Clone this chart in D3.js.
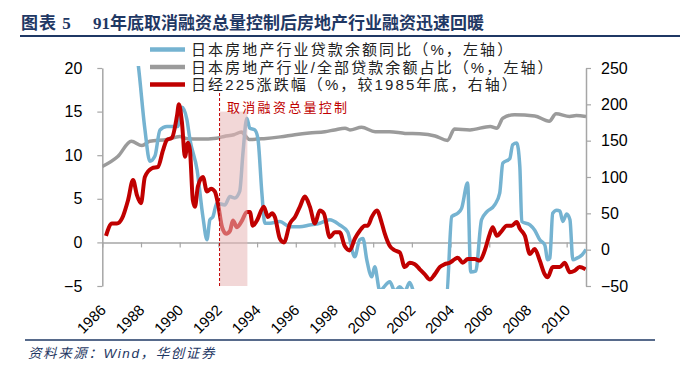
<!DOCTYPE html>
<html>
<head>
<meta charset="utf-8">
<script src="https://cdn.jsdelivr.net/npm/d3@7"></script>
<style>
body { margin: 0; background: #fff; }
svg { display: block; }
</style>
</head>
<body>
<svg id="chart" width="680" height="365"></svg>
<script>
// Japan real-estate lending vs Nikkei 225, 1986-2011
var loanYoY = [
    [1987.5, 25], [1987.85, 20.5], [1988.2, 13], [1988.46, 9.3], [1988.72, 9.9], [1988.98, 12.9],
    [1989.34, 13.3], [1989.9, 13.3], [1990.12, 15.5], [1990.37, 14.1], [1990.53, 11.8], [1990.9, 8.3],
    [1991.2, 2.95], [1991.41, 0.3], [1991.56, 2.6], [1991.72, 2.95], [1991.92, 4.5], [1992.33, 4.3],
    [1992.6, 5.25], [1992.85, 5.1], [1993.1, 5.85], [1993.27, 10.25], [1993.47, 14.25], [1993.62, 13.1],
    [1993.88, 12.9], [1994.04, 11.95], [1994.25, 5.6], [1994.4, 2.2], [1994.66, 2.2], [1995.17, 2.4],
    [1995.7, 1.8], [1996.2, 1.8], [1996.72, 2.0], [1997.24, 2.2], [1997.75, 2.6], [1998.27, 2.0],
    [1998.68, 1.2], [1999.05, -1.65], [1999.3, 0.3], [1999.47, 0.45], [1999.67, -2.0], [1999.93, -3.95],
    [2000.08, -2.8], [2000.34, -5.5], [2000.86, -4.5], [2001.12, -5.6], [2001.37, -5.1], [2001.63, -5.6],
    [2001.89, -4.6], [2002.15, -6], [2002.9, -7], [2003.8, -6], [2004.06, 2.95], [2004.37, 3.35],
    [2004.57, 3.9], [2004.88, 6.8], [2005.04, -3.4], [2005.3, -3.3], [2005.6, 2.6], [2005.87, 3.5],
    [2006.28, 4.3], [2006.54, 5.65], [2006.7, 9.1], [2007.06, 9.6], [2007.21, 11.2], [2007.42, 11.4],
    [2007.58, 8.7], [2007.68, 2.4], [2008.1, 2.0], [2008.35, 1.4], [2008.61, 0.3], [2008.87, -0.3],
    [2009.02, -2.0], [2009.13, -1.8], [2009.28, 3.35], [2009.49, 3.7], [2009.65, 3.6], [2009.8, 2.4],
    [2010.0, 3.25], [2010.17, 2.6], [2010.32, -2.0], [2010.53, -1.8], [2010.79, -1.45], [2011.0, -0.8]
];
var loanShare = [
    [1986.0, 8.7], [1986.8, 9.85], [1987.5, 11.6], [1988.05, 11.1], [1988.45, 11.6], [1989.35, 11.8],
    [1990.0, 12.15], [1990.4, 11.9], [1991.05, 11.85], [1991.9, 11.95], [1992.3, 12.15], [1992.8, 12.35],
    [1993.2, 12.65], [1993.35, 12.35], [1993.6, 11.8], [1994.35, 11.9], [1995.2, 12.1], [1995.95, 12.35],
    [1996.7, 12.55], [1997.5, 12.7], [1998.0, 12.9], [1998.55, 13.1], [1998.8, 12.9], [1999.4, 13.2],
    [2000.1, 12.7], [2000.85, 12.7], [2001.65, 12.5], [2002.4, 12.45], [2003.2, 12.2], [2003.85, 11.7],
    [2004.2, 13.0], [2005.0, 12.9], [2006.05, 13.3], [2006.4, 13.1], [2006.7, 14.25], [2007.3, 14.65],
    [2008.35, 14.5], [2009.1, 13.9], [2009.45, 14.75], [2010.15, 14.45], [2010.5, 14.55], [2011.0, 14.45]
];
var nikkeiChg = [
    [1986.19, 19], [1986.5, 36], [1986.76, 36], [1987.02, 43], [1987.33, 68], [1987.59, 96],
    [1987.79, 75], [1988.0, 64], [1988.2, 100], [1988.57, 112], [1988.88, 114], [1989.14, 137],
    [1989.34, 151], [1989.6, 154], [1989.86, 184], [1989.96, 200], [1990.12, 174], [1990.27, 128],
    [1990.43, 147], [1990.53, 137], [1990.68, 68], [1990.79, 59], [1990.94, 87], [1991.2, 100],
    [1991.41, 80], [1991.62, 84], [1991.82, 80], [1991.98, 63], [1992.19, 31], [1992.4, 22],
    [1992.6, 26], [1992.75, 40], [1992.96, 31], [1993.22, 40], [1993.47, 52], [1993.63, 52],
    [1993.78, 33], [1993.99, 40], [1994.35, 59], [1994.56, 45], [1994.77, 50], [1994.92, 45],
    [1995.18, 15], [1995.39, 10], [1995.7, 36], [1995.96, 45], [1996.21, 59], [1996.47, 73],
    [1996.73, 59], [1996.99, 36], [1997.24, 54], [1997.45, 50], [1997.76, 17], [1998.02, 24],
    [1998.27, 24], [1998.53, 5], [1998.79, -1], [1999.05, 15], [1999.31, 26], [1999.57, 33],
    [1999.72, 33], [1999.93, 45], [2000.19, 54], [2000.45, 36], [2000.6, 22], [2000.86, 5],
    [2001.12, -1], [2001.38, -4], [2001.63, -24], [2001.89, -18], [2002.15, -20], [2002.41, -27],
    [2002.67, -34], [2002.93, -41], [2003.18, -34], [2003.44, -24], [2003.7, -20], [2003.96, -18],
    [2004.22, -13], [2004.37, -11], [2004.63, -18], [2004.89, -13], [2005.25, -13], [2005.51, -15],
    [2005.77, -1], [2006.03, 22], [2006.18, 31], [2006.39, 19], [2006.65, 26], [2006.9, 33],
    [2007.16, 33], [2007.42, 38], [2007.58, 29], [2007.84, 19], [2008.1, -6], [2008.35, 1],
    [2008.61, -15], [2008.87, -34], [2009.02, -38], [2009.28, -24], [2009.65, -24], [2009.9, -18],
    [2010.16, -31], [2010.41, -29], [2010.67, -24], [2010.98, -27]
];
var leftTicks = [-5, 0, 5, 10, 15, 20];
var rightTicks = [-50, 0, 50, 100, 150, 200, 250];
var yearTicks = d3.range(1986, 2011, 2);
var legendLabels = [
    '日本房地产行业贷款余额同比（%，左轴）',
    '日本房地产行业/全部贷款余额占比（%，左轴）',
    '日经225涨跌幅（%，较1985年底，右轴）'
];
var policyWindow = [1992.06, 1993.5];

var navy = '#1f3864';
var blue = '#75b3d1';
var gray = '#9b9b9b';
var red = '#c00000';
var axisGray = '#a6a6a6';
var font = '"Liberation Sans", Arial, "Noto Sans CJK SC", sans-serif';

var svg = d3.select('#chart');
var x = d3.scaleLinear().domain([1986, 2011]).range([102.3, 586]);
var yL = d3.scaleLinear().domain([-5, 20]).range([286, 68]);
var yR = d3.scaleLinear().domain([-50, 250]).range([286, 68]);

// title + rules
var title = svg.append('text').attr('y', 29)
    .style('font-family', '"Liberation Serif", "Noto Sans CJK SC", serif')
    .style('font-weight', 'bold').style('font-size', '17px').attr('fill', navy);
title.append('tspan').attr('x', 21).style('letter-spacing', '1px').text('图表 5');
title.append('tspan').attr('x', 93).text('91年底取消融资总量控制后房地产行业融资迅速回暖');
svg.append('line').attr('x1', 20).attr('x2', 680).attr('y1', 36).attr('y2', 36)
    .attr('stroke', navy).attr('stroke-width', 2);
svg.append('line').attr('x1', 25).attr('x2', 655).attr('y1', 340).attr('y2', 340)
    .attr('stroke', navy).attr('stroke-width', 1.5);
svg.append('text').attr('x', 28).attr('y', 358)
    .style('font-family', font).style('font-style', 'italic').style('font-size', '13.5px')
    .style('letter-spacing', '1.6px').attr('fill', navy)
    .text('资料来源：Wind，华创证券');

// axes
function styleAxis(g) {
    g.selectAll('path.domain').attr('stroke', axisGray).attr('stroke-width', 1.5);
    g.selectAll('.tick line').attr('stroke', axisGray).attr('stroke-width', 1.2);
    g.selectAll('.tick text').attr('fill', '#000').style('font-family', font).style('font-size', '16px');
}
var gL = svg.append('g').attr('transform', 'translate(' + x(1986) + ',0)')
    .call(d3.axisLeft(yL).tickValues(leftTicks).tickSize(5).tickSizeOuter(0).tickPadding(15));
styleAxis(gL);
var gR = svg.append('g').attr('transform', 'translate(' + x(2011) + ',0)')
    .call(d3.axisRight(yR).tickValues(rightTicks).tickSize(5).tickSizeOuter(0).tickPadding(10));
styleAxis(gR);
var gX = svg.append('g').attr('transform', 'translate(0,' + yL(0) + ')')
    .call(d3.axisBottom(x).tickValues(yearTicks).tickFormat(d3.format('d')).tickSize(5).tickSizeOuter(0));
styleAxis(gX);
gX.selectAll('.tick text')
    .attr('x', 0).attr('y', 0).attr('dy', 0)
    .attr('text-anchor', 'end').style('font-size', '15px')
    .attr('transform', 'translate(4,' + (yL(-5) - yL(0) + 25) + ') rotate(-45)');

// series
var clip = svg.append('defs').append('clipPath').attr('id', 'plot');
clip.append('rect').attr('x', x(1986)).attr('y', 66).attr('width', x(2011) - x(1986)).attr('height', 223);

var plot = svg.append('g').attr('clip-path', 'url(#plot)');
var lineL = d3.line().x(function (d) { return x(d[0]); }).y(function (d) { return yL(d[1]); }).curve(d3.curveMonotoneX);
var lineR = d3.line().x(function (d) { return x(d[0]); }).y(function (d) { return yR(d[1]); }).curve(d3.curveMonotoneX);

plot.append('path').datum(loanShare).attr('d', lineL)
    .attr('fill', 'none').attr('stroke', gray).attr('stroke-width', 3.5).attr('stroke-linejoin', 'round');
plot.append('path').datum(loanYoY).attr('d', lineL)
    .attr('fill', 'none').attr('stroke', blue).attr('stroke-width', 3.5).attr('stroke-linejoin', 'round');
plot.append('path').datum(nikkeiChg).attr('d', lineR)
    .attr('fill', 'none').attr('stroke', red).attr('stroke-width', 4).attr('stroke-linejoin', 'round');

// policy window shade + annotation
svg.append('rect')
    .attr('x', x(policyWindow[0])).attr('y', yL(15))
    .attr('width', x(policyWindow[1]) - x(policyWindow[0])).attr('height', yL(-5) - yL(15))
    .attr('fill', '#e7b6b6').attr('opacity', 0.55);
svg.append('line')
    .attr('x1', x(policyWindow[0])).attr('x2', x(policyWindow[0]))
    .attr('y1', 93).attr('y2', yL(-5))
    .attr('stroke', red).attr('stroke-width', 1).attr('stroke-dasharray', '3,2');
svg.append('text').attr('x', 227).attr('y', 112)
    .style('font-family', font).style('font-size', '13px').style('letter-spacing', '2.3px')
    .attr('fill', red).text('取消融资总量控制');

// legend
var legendColors = [blue, gray, red];
var legendY = [49.5, 67, 84.5];
var lg = svg.append('g').selectAll('g').data(legendLabels).join('g')
    .attr('transform', function (d, i) { return 'translate(0,' + legendY[i] + ')'; });
lg.append('line').attr('x1', 150).attr('x2', 185)
    .attr('stroke', function (d, i) { return legendColors[i]; }).attr('stroke-width', 4.5);
lg.append('text').attr('x', 191).attr('y', 5.5)
    .style('font-family', font).style('font-size', '15px').style('letter-spacing', '2.1px')
    .attr('fill', '#222').text(function (d) { return d; });
</script>
</body>
</html>
